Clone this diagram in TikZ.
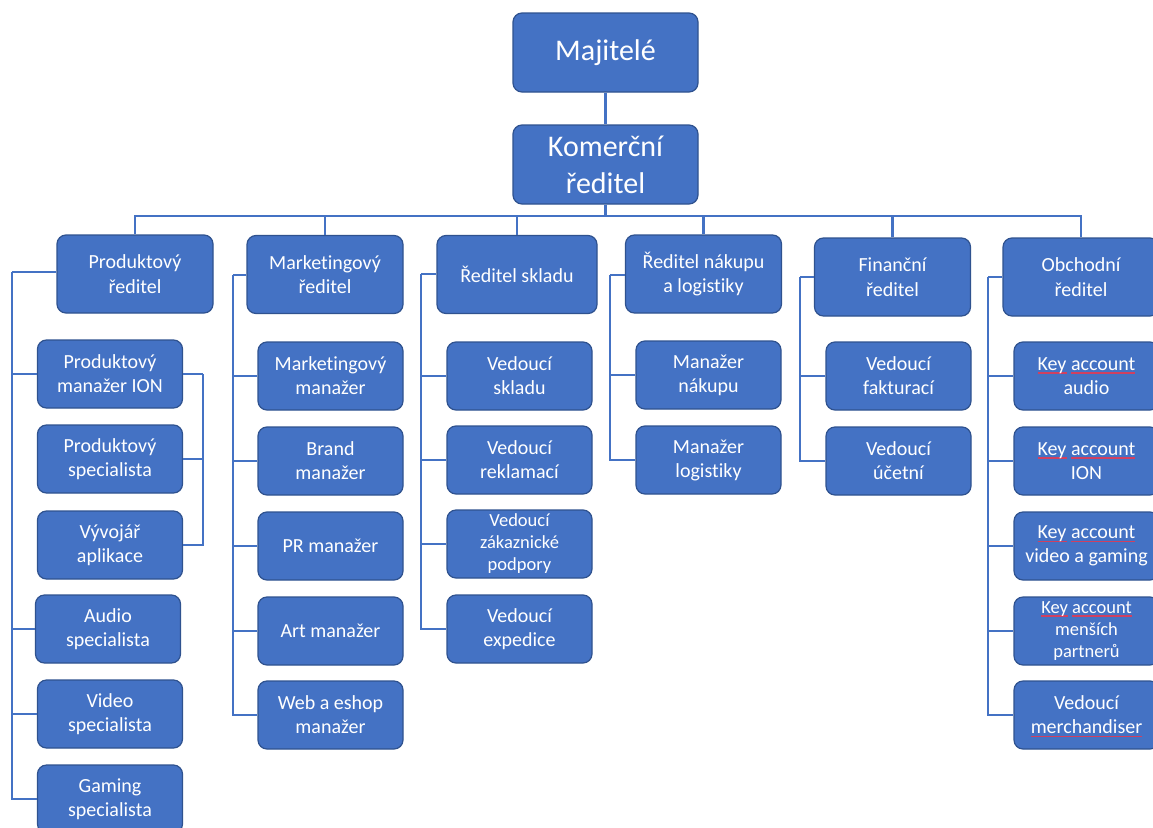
\documentclass[tikz,border=0pt]{standalone}
\usepackage{fontspec}
\setmainfont{Carlito}[Ligatures=NoCommon]
\definecolor{blu}{HTML}{4472C4}
\definecolor{bdr}{HTML}{2F528F}
\definecolor{lnk}{HTML}{4472C4}
\definecolor{spellred}{HTML}{D04060}
\newbox\splbox
\newdimen\splwd
\newcommand\spl[1]{\setbox\splbox\hbox{#1}\splwd=\wd\splbox\tikz[overlay,baseline=0pt]{\draw[spellred,line width=1.8pt] (0pt,-2.7pt) -- (\splwd,-2.7pt);}\copy\splbox}
\tikzset{
  orgbox/.style={draw=bdr, fill=blu, rounded corners=9pt, line width=1.2pt, text=white,
    align=center, inner sep=0pt},
  topbox/.style={orgbox, minimum width=185pt, minimum height=79pt,
    font=\fontsize{30}{37}\selectfont},
  headbox/.style={orgbox, minimum width=156pt, minimum height=78pt,
    font=\fontsize{20}{24.5}\selectfont},
  kidbox/.style={orgbox, minimum width=145pt, minimum height=68pt,
    font=\fontsize{20}{24}\selectfont},
  smallbox/.style={kidbox, font=\fontsize{18.5}{22}\selectfont},
  link/.style={draw=lnk, line width=2.8pt}
}
\begin{document}
\begin{tikzpicture}[x=1pt,y=-1pt]
\fill[white] (0,0) rectangle (1153,827);
\clip (0,0) rectangle (1153,827);
% top
\node[topbox] (maj) at (605.5,52.5) {Majitelé};
\node[topbox] (kom) at (605.5,164.5) {Komerční\\ředitel};
% level 2
\node[headbox] (P) at (135,274) {Produktový\\ředitel};
\node[headbox] (M) at (325,274.5) {Marketingový\\ředitel};
\node[headbox, minimum width=160pt] (S) at (517,274.5) {Ředitel skladu};
\node[headbox] (N) at (703.5,274) {Ředitel nákupu\\a logistiky};
\node[headbox] (F) at (892.5,277) {Finanční\\ředitel};
\node[headbox] (O) at (1081,277) {Obchodní\\ředitel};
% P children
\node[kidbox] (ion) at (110,374) {Produktový\\manažer ION};
\node[kidbox] (ps) at (110,459) {Produktový\\specialista};
\node[kidbox] (va) at (110,545) {Vývojář\\aplikace};
\node[kidbox] (aud) at (108,629) {Audio\\specialista};
\node[kidbox] (vid) at (110,714) {Video\\specialista};
\node[kidbox] (gam) at (110,799) {Gaming\\specialista};
% M children
\node[kidbox] (mm) at (330.5,376) {Marketingový\\manažer};
\node[kidbox] (br) at (330.5,461) {Brand\\manažer};
\node[kidbox] (pr) at (330.5,546) {PR manažer};
\node[kidbox] (art) at (330.5,631) {Art manažer};
\node[kidbox] (web) at (330.5,715) {Web a eshop\\manažer};
% S children
\node[kidbox] (vs) at (519.5,376) {Vedoucí\\skladu};
\node[kidbox] (vr) at (519.5,460) {Vedoucí\\reklamací};
\node[smallbox] (vz) at (519.5,544) {Vedoucí\\zákaznické\\podpory};
\node[kidbox] (ve) at (519.5,629) {Vedoucí\\expedice};
% N children
\node[kidbox] (mn) at (708.5,375) {Manažer\\nákupu};
\node[kidbox] (ml) at (708.5,460) {Manažer\\logistiky};
% F children
\node[kidbox] (vf) at (898.5,376) {Vedoucí\\fakturací};
\node[kidbox] (vu) at (898.5,461) {Vedoucí\\účetní};
% O children
\node[kidbox] (ka) at (1086.5,376) {{\spl{Key}}\ {\spl{account}}\\audio};
\node[kidbox] (ki) at (1086.5,461) {{\spl{Key}}\ {\spl{account}}\\ION};
\node[kidbox] (kv) at (1086.5,546) {{\spl{Key}}\ {\spl{account}}\\video a gaming};
\node[smallbox] (km) at (1086.5,631) {{\spl{Key}}\ {\spl{account}}\\menších\\partnerů};
\node[kidbox] (vm) at (1086.5,715) {Vedoucí\\{\spl{merchandiser}}};
% connectors
\coordinate (bus) at (605.5,216);
\draw[link] (maj) -- (kom);
\draw[link] (kom.south) -- (bus);
\foreach \n in {P,M,S,N,F,O} \draw[link] (\n.north) |- (bus);
% P column
\coordinate (pb) at (12,272);
\draw[link] (P.west |- pb) -- (pb);
\foreach \n in {ion,aud,vid,gam} \draw[link] (pb) |- (\n.west);
\coordinate (ib) at (203,374);
\draw[link] (ion.east) -- (ib);
\foreach \n in {ps,va} \draw[link] (ib) |- (\n.east);
% M column
\coordinate (mb) at (233,275);
\draw[link] (M.west |- mb) -- (mb);
\foreach \n in {mm,br,pr,art,web} \draw[link] (mb) |- (\n.west);
% S column
\coordinate (sb) at (421,274);
\draw[link] (S.west |- sb) -- (sb);
\foreach \n in {vs,vr,vz,ve} \draw[link] (sb) |- (\n.west);
% N column
\coordinate (nb) at (610,275);
\draw[link] (N.west |- nb) -- (nb);
\foreach \n in {mn,ml} \draw[link] (nb) |- (\n.west);
% F column
\coordinate (fb) at (800,277);
\draw[link] (F.west |- fb) -- (fb);
\foreach \n in {vf,vu} \draw[link] (fb) |- (\n.west);
% O column
\coordinate (ob) at (988,277);
\draw[link] (O.west |- ob) -- (ob);
\foreach \n in {ka,ki,kv,km,vm} \draw[link] (ob) |- (\n.west);
\end{tikzpicture}
\end{document}
